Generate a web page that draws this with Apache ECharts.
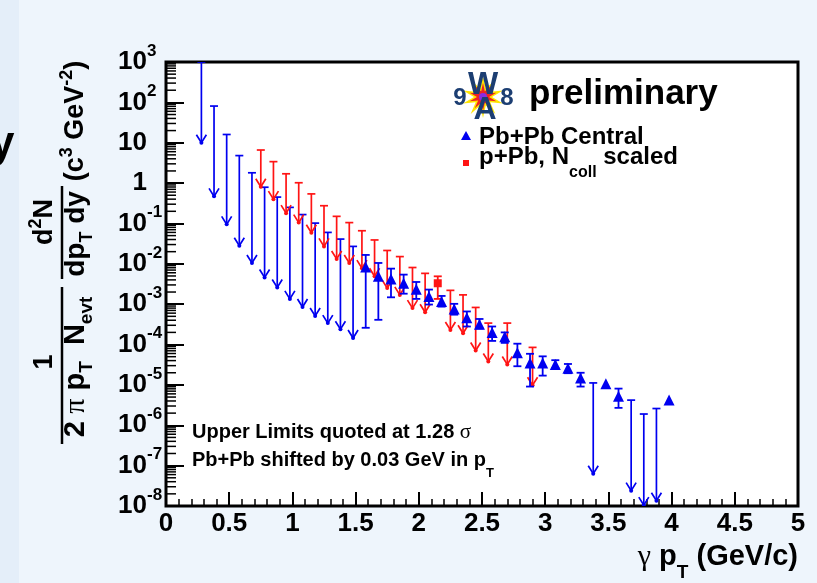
<!DOCTYPE html>
<html>
<head>
<meta charset="utf-8">
<script src="https://cdn.jsdelivr.net/npm/echarts@6/dist/echarts.min.js"></script>
<style>
  html, body { margin: 0; padding: 0; background: #eef5fc; }
  #chart { width: 817px; height: 583px; }
</style>
</head>
<body>
<div id="chart"></div>
<script>
// Pb+Pb (blue) and p+Pb (red) direct photon spectra, ROOT-style log plot

// Pb+Pb upper limits: x, limit (cap), arrow tip
const blueUlX   = [0.28, 0.38, 0.48, 0.58, 0.68, 0.78, 0.88, 0.98, 1.08, 1.18, 1.28, 1.38, 1.48, 3.38, 3.68, 3.78, 3.88];
const blueUlTop = [1000, 81, 16, 4.8, 1.8, 0.79, 0.45, 0.25, 0.166, 0.102, 0.060, 0.041, 0.027, 1.12e-5, 4.2e-6, 1.9e-6, 2.6e-6];
const blueUlTip = [10, 0.47, 0.095, 0.028, 0.0105, 4.6e-3, 2.6e-3, 1.35e-3, 8.5e-4, 5.1e-4, 3.4e-4, 2.4e-4, 1.45e-4, 6.3e-8, 2.4e-8, 1.05e-8, 1.35e-8];

// Pb+Pb measured points
const blueX  = [1.58, 1.68, 1.78, 1.88, 1.98, 2.08, 2.18, 2.28, 2.38, 2.48, 2.58, 2.68, 2.78, 2.88, 2.98, 3.08, 3.18, 3.28, 3.48, 3.58, 3.98];
const blueY  = [8.3e-3, 4.9e-3, 4.2e-3, 3.3e-3, 2.34e-3, 1.55e-3, 1.17e-3, 7.6e-4, 4.6e-4, 3.2e-4, 2.0e-4, 1.55e-4, 6.3e-5, 3.5e-5, 3.5e-5, 3.2e-5, 2.6e-5, 1.48e-5, 1.07e-5, 5.2e-6, 4.2e-6];
const blueHi = [1.66e-2, 1.05e-2, 7.6e-3, 5.4e-3, 3.55e-3, 2.3e-3, 1.6e-3, 1.02e-3, 6.6e-4, 4.3e-4, 2.8e-4, 2.0e-4, 1.05e-4, 5.9e-5, 5.1e-5, 4.1e-5, 3.3e-5, 2.0e-5, null, 8.1e-6, null];
const blueLo = [2.6e-4, 4.1e-4, 1.48e-3, 1.82e-3, 1.35e-3, 9.8e-4, 8.7e-4, 5.5e-4, 2.8e-4, 2.5e-4, 1.23e-4, 1.1e-4, 2.9e-5, 9.1e-6, 1.7e-5, 2.6e-5, 1.95e-5, 9.1e-6, null, 2.7e-6, null];

// p+Pb (Ncoll scaled) upper limits
const redUlX   = [0.75, 0.85, 0.95, 1.05, 1.15, 1.25, 1.35, 1.45, 1.55, 1.65, 1.75, 1.85, 1.95, 2.05, 2.25, 2.35, 2.45, 2.55, 2.70, 2.90];
const redUlTop = [6.6, 3.4, 1.7, 1.02, 0.54, 0.275, 0.15, 0.105, 0.066, 0.039, 0.0214, 0.0151, 8.1e-3, 5.8e-3, 2.2e-3, 1.7e-3, 8.3e-4, 3.4e-4, 3.4e-4, 8.5e-5];
const redUlTip = [0.81, 0.40, 0.18, 0.105, 0.059, 0.027, 0.0132, 0.0105, 7.8e-3, 4.9e-3, 2.5e-3, 1.7e-3, 8.0e-4, 6.3e-4, 2.3e-4, 1.9e-4, 7.1e-5, 3.8e-5, 3.2e-5, 9.8e-6];

// p+Pb measured point
const redX  = [2.15];
const redY  = [3.3e-3];
const redHi = [4.9e-3];
const redLo = [1.35e-3];

// log axis decades (for ROOT-like minor ticks 2..9)
const yDecades  = [-8, -7, -6, -5, -4, -3, -2, -1, 0, 1, 2];
const yMinorMul = [2, 3, 4, 5, 6, 7, 8, 9];

const BLUE = "#0000f0";
const RED  = "#ff1414";
const F    = "'Liberation Sans', Arial, Helvetica, sans-serif";
const SYM  = "'Liberation Serif', 'DejaVu Serif', serif";

const chart = echarts.init(document.getElementById("chart"));

function ulRender(color) {
  return function (params, api) {
    const top = api.coord([api.value(0), api.value(1)]);
    const tip = api.coord([api.value(0), api.value(2)]);
    const st = { stroke: color, lineWidth: 1.7, fill: null };
    return { type: "group", children: [
      { type: "line", shape: { x1: top[0], y1: top[1], x2: tip[0], y2: tip[1] }, style: st },
      { type: "line", shape: { x1: top[0] - 4, y1: top[1], x2: top[0] + 4, y2: top[1] }, style: st },
      { type: "polyline", shape: { points: [[tip[0] - 5, tip[1] - 8], [tip[0], tip[1]], [tip[0] + 5, tip[1] - 8]] }, style: st },
      { type: "circle", shape: { cx: tip[0], cy: tip[1], r: 2 }, style: { fill: color } },
    ] };
  };
}

function errRender(color) {
  return function (params, api) {
    const hi = api.coord([api.value(0), api.value(1)]);
    const lo = api.coord([api.value(0), api.value(2)]);
    const st = { stroke: color, lineWidth: 1.8, fill: null };
    return { type: "group", children: [
      { type: "line", shape: { x1: hi[0], y1: hi[1], x2: lo[0], y2: lo[1] }, style: st },
      { type: "line", shape: { x1: hi[0] - 4, y1: hi[1], x2: hi[0] + 4, y2: hi[1] }, style: st },
      { type: "line", shape: { x1: lo[0] - 4, y1: lo[1], x2: lo[0] + 4, y2: lo[1] }, style: st },
    ] };
  };
}

const blueUl = blueUlX.map((x, i) => [x, blueUlTop[i], blueUlTip[i]]);
const redUl  = redUlX.map((x, i) => [x, redUlTop[i], redUlTip[i]]);
const blueErr = blueX.map((x, i) => [x, blueHi[i], blueLo[i]]).filter(d => d[1] != null);
const redErr  = redX.map((x, i) => [x, redHi[i], redLo[i]]);
const minorTicks = [];
for (const d of yDecades) for (const m of yMinorMul) minorTicks.push([0, m * Math.pow(10, d)]);

// rich text helpers
function rich(size, L) {
  return {
    m:   { fontFamily: F, fontWeight: "bold", fontSize: size, lineHeight: L, color: "#000" },
    g:   { fontFamily: SYM, fontSize: size + 1, lineHeight: L, color: "#000" },
    sub: { fontFamily: F, fontWeight: "bold", fontSize: Math.round(size * 0.65), lineHeight: 16, verticalAlign: "bottom", color: "#000" },
    sup: { fontFamily: F, fontWeight: "bold", fontSize: Math.round(size * 0.65), lineHeight: 16, verticalAlign: "top", color: "#000" },
  };
}
function txt(x, y, text, size, L, align, rot) {
  return { type: "text", x, y, rotation: rot || 0, z: 100,
    style: { text, rich: rich(size, L), align: align || "left", verticalAlign: "middle" } };
}
const R90 = Math.PI / 2;

// WA98 logo star
function starPts(cx, cy, ro, ri, n) {
  const pts = [];
  for (let k = 0; k < 2 * n; k++) {
    const r = k % 2 ? ri : ro, a = Math.PI * k / n - Math.PI / 2;
    pts.push([cx + r * Math.cos(a), cy + r * Math.sin(a)]);
  }
  return pts;
}

const graphic = [
  { type: "rect", shape: { x: 0, y: 0, width: 19, height: 583 }, style: { fill: "#e4eef9" }, z: -10 },
  { type: "text", x: -10, y: 145, z: 5, style: { text: "y", fontFamily: F, fontWeight: "bold", fontSize: 44, fill: "#000", verticalAlign: "middle" } },

  // y-axis title
  txt(45, 362, "{m|1}", 27, 36, "center", R90),
  { type: "line", shape: { x1: 62, y1: 287, x2: 62, y2: 444 }, style: { stroke: "#000", lineWidth: 2.5 }, z: 100 },
  txt(76, 367, "{m|2}{g| π}{m| p}{sub|T}{m|  N}{sub|evt}", 29, 40, "center", R90),
  txt(45, 222, "{m|d}{sup|2}{m|N}", 27, 36, "center", R90),
  { type: "line", shape: { x1: 62, y1: 186, x2: 62, y2: 279 }, style: { stroke: "#000", lineWidth: 2.5 }, z: 100 },
  txt(76, 234, "{m|dp}{sub|T}{m| dy}", 28, 40, "center", R90),
  txt(76, 121, "{m|(c}{sup|3}{m| GeV}{sup|-2}{m|)}", 27, 36, "center", R90),

  // x-axis title
  txt(798, 557, "{g|γ}{m| p}{sub|T}{m| (GeV/c)}", 29, 50, "right"),

  // logo + preliminary
  { type: "polygon", shape: { points: starPts(483, 97, 21, 9, 10) }, style: { fill: "#ffe600" }, z: 90 },
  { type: "polygon", shape: { points: starPts(483, 97, 14, 6, 10) }, style: { fill: "#ee2222" }, z: 91 },
  { type: "circle", shape: { cx: 483, cy: 97, r: 4 }, style: { fill: "#8a2be2" }, z: 92 },
  { type: "text", x: 483, y: 85, z: 95, style: { text: "W", fontFamily: F, fontWeight: "bold", fontSize: 32, fill: "#1c3e72", align: "center", verticalAlign: "middle" } },
  { type: "text", x: 485, y: 110, z: 95, style: { text: "A", fontFamily: F, fontWeight: "bold", fontSize: 32, fill: "#1c3e72", align: "center", verticalAlign: "middle" } },
  { type: "text", x: 460, y: 98, z: 95, style: { text: "9", fontFamily: F, fontWeight: "bold", fontSize: 24, fill: "#1c3e72", align: "center", verticalAlign: "middle" } },
  { type: "text", x: 507, y: 98, z: 95, style: { text: "8", fontFamily: F, fontWeight: "bold", fontSize: 24, fill: "#1c3e72", align: "center", verticalAlign: "middle" } },
  { type: "text", x: 529, y: 94, z: 95, style: { text: "preliminary", fontFamily: F, fontWeight: "bold", fontSize: 35, fill: "#000", verticalAlign: "middle" } },

  // legend
  { type: "polygon", shape: { points: [[466, 131], [461, 140], [471, 140]] }, style: { fill: BLUE }, z: 95 },
  txt(479, 137, "{m|Pb+Pb Central}", 24, 32, "left"),
  { type: "rect", shape: { x: 463, y: 160, width: 6, height: 6 }, style: { fill: RED }, z: 95 },
  txt(479, 157, "{m|p+Pb, N}{sub|coll}{m| scaled}", 24, 48, "left"),

  // notes
  txt(192, 432, "{m|Upper Limits quoted at 1.28 }{g|σ}", 20, 28, "left"),
  txt(192, 460, "{m|Pb+Pb shifted by 0.03 GeV in p}{sub|T}", 20, 40, "left"),
];

function expOf(v) { return Math.round(Math.log10(v)); }
const yBase = { type: "log", logBase: 10, min: 1e-8, max: 1e3, interval: 1, position: "left", splitLine: { show: false }, axisLine: { show: false } };

chart.setOption({
  backgroundColor: "#eef5fc",
  animation: false,
  grid: { left: 166, right: 19, top: 62, bottom: 77, show: true, backgroundColor: "#fff", borderColor: "#000", borderWidth: 3 },
  xAxis: {
    type: "value", min: 0, max: 5, interval: 0.5,
    axisLine: { show: false },
    axisTick: { inside: true, length: 14, lineStyle: { color: "#000", width: 2 } },
    minorTick: { show: true, splitNumber: 5, length: 7, lineStyle: { color: "#000", width: 1.5 } },
    splitLine: { show: false },
    axisLabel: { color: "#000", fontFamily: F, fontWeight: "bold", fontSize: 26, margin: 5, formatter: v => String(v) },
  },
  yAxis: [
    Object.assign({}, yBase, {
      axisTick: { inside: true, length: 18, lineStyle: { color: "#000", width: 2 } },
      axisLabel: {
        margin: 19, color: "#000", fontFamily: F, fontWeight: "bold", fontSize: 26,
        formatter: v => (expOf(v) === 0 ? "1" : "10"),
      },
    }),
    Object.assign({}, yBase, {
      axisTick: { show: false },
      axisLabel: {
        margin: 19, align: "left", verticalAlign: "bottom", lineHeight: 22,
        color: "#000", fontFamily: F, fontWeight: "bold", fontSize: 17,
        formatter: v => { const e = expOf(v); return (e === 0 || e === 1) ? "" : String(e); },
      },
    }),
  ],
  graphic,
  series: [
    { type: "custom", data: minorTicks, silent: true, z: 10,
      renderItem: (p, api) => {
        const l = api.coord([0, api.value(1)]);
        return { type: "line", shape: { x1: l[0], y1: l[1], x2: l[0] + 10, y2: l[1] }, style: { stroke: "#000", lineWidth: 1.5 } };
      } },
    { type: "custom", data: blueUl, renderItem: ulRender(BLUE), clip: true, z: 3 },
    { type: "custom", data: redUl, renderItem: ulRender(RED), clip: true, z: 4 },
    { type: "custom", data: blueErr, renderItem: errRender(BLUE), clip: true, z: 5 },
    { type: "custom", data: redErr, renderItem: errRender(RED), clip: true, z: 5 },
    { type: "scatter", data: blueX.map((x, i) => [x, blueY[i]]), symbol: "triangle", symbolSize: 11, itemStyle: { color: BLUE, opacity: 1 }, z: 6 },
    { type: "scatter", data: redX.map((x, i) => [x, redY[i]]), symbol: "rect", symbolSize: 8, itemStyle: { color: RED, opacity: 1 }, z: 6 },
  ],
});
</script>
</body>
</html>
